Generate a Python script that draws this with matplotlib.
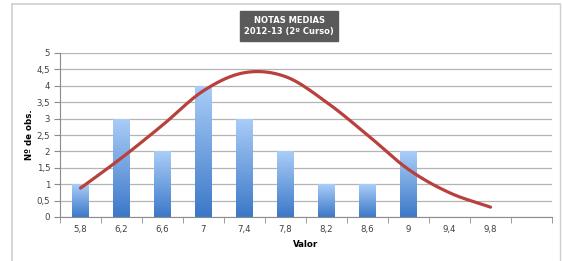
import numpy as np
import matplotlib
matplotlib.use("Agg")
import matplotlib.pyplot as plt
from matplotlib.lines import Line2D
from matplotlib.patches import Rectangle
from matplotlib.colors import LinearSegmentedColormap

# ----------------------------------
# Data
categories = ["5,8", "6,2", "6,6", "7", "7,4", "7,8", "8,2", "8,6", "9", "9,4", "9,8", ""]
counts = [1, 3, 2, 4, 3, 2, 1, 1, 2, 0, 0]
curve = [0.88, 1.8, 2.8, 3.85, 4.4, 4.28, 3.5, 2.5, 1.45, 0.74, 0.3]

title_lines = ["NOTAS MEDIAS", "2012-13 (2º Curso)"]


# Smooth a polyline through the points (Catmull-Rom, like Excel's smoothed line)
def catmull_rom(xs, ys, steps=20):
    px = np.concatenate([[2 * xs[0] - xs[1]], xs, [2 * xs[-1] - xs[-2]]])
    py = np.concatenate([[2 * ys[0] - ys[1]], ys, [2 * ys[-1] - ys[-2]]])
    out_x, out_y = [], []
    t = np.linspace(0, 1, steps, endpoint=False)
    for i in range(1, len(px) - 2):
        for arr, out in ((px, out_x), (py, out_y)):
            p0, p1, p2, p3 = arr[i - 1], arr[i], arr[i + 1], arr[i + 2]
            out.extend(0.5 * (2 * p1 + (-p0 + p2) * t
                              + (2 * p0 - 5 * p1 + 4 * p2 - p3) * t ** 2
                              + (-p0 + 3 * p1 - 3 * p2 + p3) * t ** 3))
    out_x.append(xs[-1])
    out_y.append(ys[-1])
    return np.array(out_x), np.array(out_y)


fig = plt.figure(figsize=(5.62, 2.61), dpi=100)
ax = fig.add_axes([60 / 562, 44 / 261, 492 / 562, 164 / 261])

# gridlines
ax.set_ylim(0, 5)
ax.set_xlim(-0.5, len(categories) - 0.5)
ax.set_yticks(np.arange(0, 5.01, 0.5))
ax.yaxis.grid(True, color="#b4b4b4", linewidth=0.9)
ax.set_axisbelow(True)

# gradient bars
cmap = LinearSegmentedColormap.from_list("bar", ["#3c78c8", "#a9cdf8"])
grad = np.linspace(0, 1, 100).reshape(-1, 1)
bw = 0.4
for i, c in enumerate(counts):
    if c == 0:
        continue
    im = ax.imshow(grad, cmap=cmap, origin="lower", aspect="auto",
                   extent=(i - bw / 2, i + bw / 2, 0, c), zorder=2)
    rect = Rectangle((i - bw / 2, 0), bw, c, transform=ax.transData)
    im.set_clip_path(rect)
ax.set_xlim(-0.5, len(categories) - 0.5)
ax.set_ylim(0, 5)

# smoothed curve
xs = np.arange(len(curve), dtype=float)
sx, sy = catmull_rom(xs, np.array(curve))
ax.plot(sx, sy, color="#b8403d", linewidth=2.3, solid_capstyle="round", zorder=3)

# axes styling
for s in ["top", "right"]:
    ax.spines[s].set_visible(False)
for s in ["left", "bottom"]:
    ax.spines[s].set_color("#8c8c8c")
    ax.spines[s].set_linewidth(0.8)

ax.set_xticks(np.arange(len(categories)))
ax.set_xticklabels(categories)
ax.set_xticks(np.arange(-0.5, len(categories)), minor=True)
ax.tick_params(axis="x", which="major", length=0, labelsize=6.2, pad=6, colors="#404040")
ax.tick_params(axis="x", which="minor", length=4, color="#8c8c8c")
ax.tick_params(axis="y", length=4, color="#8c8c8c", labelsize=6.2, colors="#404040", pad=3)
ax.set_yticklabels([("%g" % v).replace(".", ",") for v in np.arange(0, 5.01, 0.5)])

ax.set_xlabel("Valor", fontsize=6.2, fontweight="bold", labelpad=4)
ax.set_ylabel("Nº de obs.", fontsize=6.2, fontweight="bold", labelpad=2)

# title box
fig.text(289 / 562, 1 - 26 / 261, "\n".join(title_lines), ha="center", va="center",
         fontsize=6, fontweight="bold", color="white", linespacing=1.4,
         bbox=dict(boxstyle="square,pad=0.5", facecolor="#5a5a5a", edgecolor="#5a5a5a"))

# outer frame
frame_c = "#cfcfcf"
fig.add_artist(Line2D([12 / 562, 12 / 562], [0, 1 - 4 / 261], color=frame_c, linewidth=1.2))
fig.add_artist(Line2D([12 / 562, 560 / 562], [1 - 4 / 261, 1 - 4 / 261], color=frame_c, linewidth=1.2))
fig.add_artist(Line2D([560 / 562, 560 / 562], [0, 1 - 4 / 261], color=frame_c, linewidth=1.0))

fig.savefig("out.png", dpi=100)
